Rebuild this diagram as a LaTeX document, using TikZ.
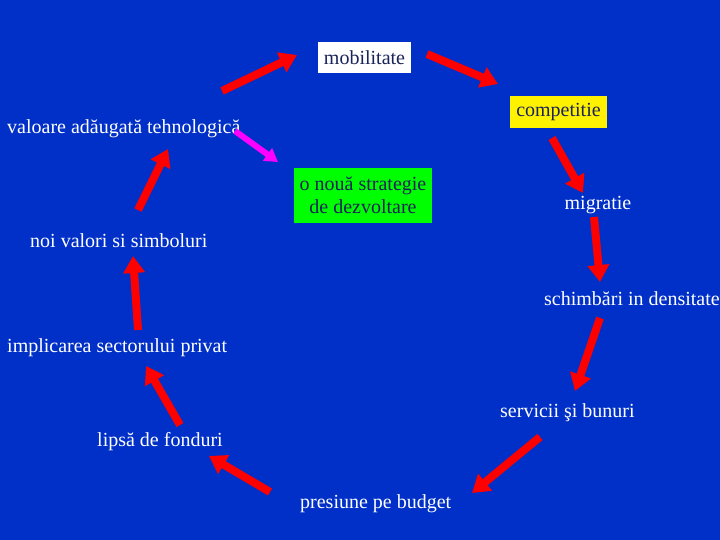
\documentclass[tikz,border=0pt]{standalone}
\usepackage{fontspec}
\setmainfont{Liberation Serif}
\usetikzlibrary{arrows.meta}
\definecolor{bg}{RGB}{0,48,200}
\definecolor{boxtext}{RGB}{25,35,90}
\definecolor{ared}{RGB}{255,0,0}
\definecolor{amag}{RGB}{255,0,255}
\tikzset{
  lbl/.style={text=white, font=\fontsize{20}{22}\selectfont, inner sep=0pt},
  boxed/.style={text=boxtext, font=\fontsize{20}{23}\selectfont, inner sep=0pt, align=center},
  redarrow/.style={draw=ared, line width=8pt, -{Triangle[length=17pt,width=21pt]}},
  magarrow/.style={draw=amag, line width=6pt, -{Triangle[length=13pt,width=15pt]}}
}
\begin{document}
\begin{tikzpicture}[x=1pt,y=-1pt]
\fill[bg] (0,0) rectangle (720,540);
\useasboundingbox (0,0) rectangle (720,540);
% boxed nodes
\node[boxed, fill=white, minimum width=93pt, minimum height=31pt] (mob) at (364.5,57.5) {mobilitate};
\node[boxed, fill=yellow, minimum width=97pt, minimum height=32pt] (comp) at (558.5,112) {competitie};
\node[boxed, fill=green, minimum width=138pt, minimum height=55pt] (strat) at (363,195.5) {o nouă strategie\\de dezvoltare};
% plain labels
\node[lbl, anchor=west] (val) at (7,129) {valoare adăugată tehnologică};
\node[lbl] (mig) at (598,205) {migratie};
\node[lbl, anchor=west] (noi) at (30,241) {noi valori si simboluri};
\node[lbl, anchor=west] (sch) at (544,299) {schimbări in densitate};
\node[lbl, anchor=west] (imp) at (7,348) {implicarea sectorului privat};
\node[lbl, anchor=west] (serv) at (500,413) {servicii şi bunuri};
\node[lbl, anchor=west] (lips) at (97,442) {lipsă de fonduri};
\node[lbl, anchor=west] (pres) at (300,504) {presiune pe budget};
% arrow end points
\coordinate (a1s) at (222,91);  \coordinate (a1e) at (297,55);
\coordinate (a2s) at (427,54);  \coordinate (a2e) at (498,84);
\coordinate (a3s) at (552,138); \coordinate (a3e) at (583,193);
\coordinate (a4s) at (594,217); \coordinate (a4e) at (600,282);
\coordinate (a5s) at (600,318); \coordinate (a5e) at (575,391);
\coordinate (a6s) at (540,437); \coordinate (a6e) at (472,493);
\coordinate (a7s) at (270,492); \coordinate (a7e) at (209,456);
\coordinate (a8s) at (180,425); \coordinate (a8e) at (146,366);
\coordinate (a9s) at (138,330); \coordinate (a9e) at (133,256);
\coordinate (a10s) at (138,210); \coordinate (a10e) at (168,149);
\coordinate (a11s) at (235,131); \coordinate (a11e) at (278,162);
% arrows
\draw[redarrow] (a1s) -- (a1e);
\draw[redarrow] (a2s) -- (a2e);
\draw[redarrow] (a3s) -- (a3e);
\draw[redarrow] (a4s) -- (a4e);
\draw[redarrow] (a5s) -- (a5e);
\draw[redarrow] (a6s) -- (a6e);
\draw[redarrow] (a7s) -- (a7e);
\draw[redarrow] (a8s) -- (a8e);
\draw[redarrow] (a9s) -- (a9e);
\draw[redarrow] (a10s) -- (a10e);
\draw[magarrow] (a11s) -- (a11e);
\end{tikzpicture}
\end{document}
